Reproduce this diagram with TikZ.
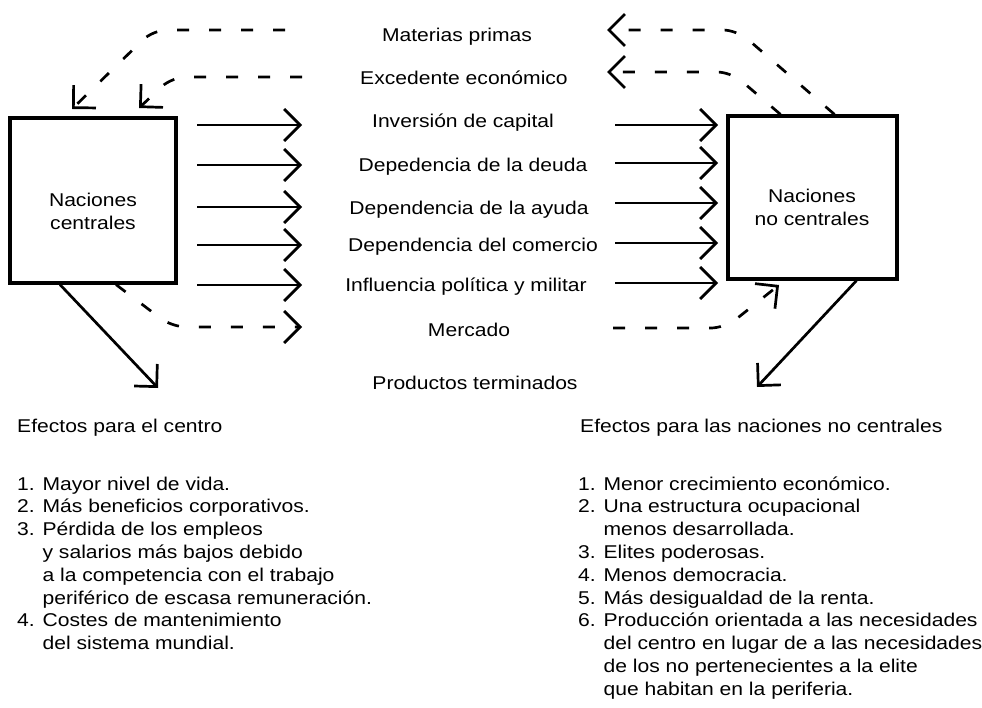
\documentclass[tikz,border=0pt]{standalone}
\usepackage{fontspec}
\setmainfont{Liberation Sans}[FakeStretch=1.14]
\usetikzlibrary{arrows.meta}
\begin{document}
\begin{tikzpicture}[x=1pt,y=-1pt,
  box/.style={draw=black, line width=3.2pt, inner sep=0pt},
  txt/.style={inner sep=0pt, font=\fontsize{18.5}{23}\selectfont},
  lbl/.style={txt, anchor=base},
  boxtext/.style={txt, align=center},
  lst/.style={txt, anchor=base west, font=\fontsize{18.5}{22.8}\selectfont},
  sarrow/.style={draw=black, line width=2.7pt, -{Straight Barb[length=16pt,width=32pt]}},
  darrow/.style={sarrow, dash pattern=on 12pt off 20pt, rounded corners=14pt}]
\useasboundingbox (0,0) rectangle (982,708);

% boxes
\node[box, minimum width=166pt, minimum height=165pt] (L) at (93,200.5) {};
\node[box, minimum width=169pt, minimum height=163pt] (R) at (812.5,197.5) {};
\node[boxtext] (Lt) at (93,211) {Naciones\\centrales};
\node[boxtext] (Rt) at (812,207.5) {Naciones\\no centrales};

% middle labels
\node[lbl] (mp) at (457,42) {Materias primas};
\node[lbl] (ee) at (464,85) {Excedente económico};
\node[lbl] (ic) at (463,128) {Inversión de capital};
\node[lbl] (dd) at (473,172) {Depedencia de la deuda};
\node[lbl] (da) at (469,215) {Dependencia de la ayuda};
\node[lbl] (dc) at (473,252) {Dependencia del comercio};
\node[lbl] (ip) at (466,292) {Influencia política y militar};
\node[lbl] (me) at (469,337) {Mercado};
\node[lbl] (pt) at (475,389) {Productos terminados};

% solid horizontal arrows
\foreach \yl/\yr [count=\i] in {125/125,165/163,207/203,245/243,285/283}{
  \coordinate (ls\i) at (197,\yl); \coordinate (le\i) at (302,\yl);
  \coordinate (rs\i) at (615,\yr); \coordinate (re\i) at (718,\yr);
  \draw[sarrow] (ls\i) -- (le\i);
  \draw[sarrow] (rs\i) -- (re\i);
}

% dashed arrows, top left
\coordinate (tl1s) at (285,30); \coordinate (tl1c) at (153,30); \coordinate (tl1e) at (72,109);
\coordinate (tl2s) at (302,77); \coordinate (tl2c) at (172,77); \coordinate (tl2e) at (139,108);
\draw[darrow] (tl1s) -- (tl1c) -- (tl1e);
\draw[darrow] (tl2s) -- (tl2c) -- (tl2e);

% dashed arrows, top right
\coordinate (tr1s) at ([xshift=22pt]R.north); \coordinate (tr1c) at (737,30); \coordinate (tr1e) at (607,30);
\coordinate (tr2s) at ([xshift=-32pt]R.north); \coordinate (tr2c) at (731,72); \coordinate (tr2e) at (607,72);
\draw[darrow] (tr1s) -- (tr1c) -- (tr1e);
\draw[darrow] (tr2s) -- (tr2c) -- (tr2e);

% dashed Mercado arrows
\coordinate (mls) at ([xshift=23pt]L.south); \coordinate (mlc) at (172,327); \coordinate (mle) at (302,327);
\coordinate (mrs) at (613,328); \coordinate (mrc) at (725,328); \coordinate (mre) at (779,285);
\draw[darrow] (mls) -- (mlc) -- (mle);
\draw[darrow] (mrs) -- (mrc) -- (mre);

% bottom solid arrows
\coordinate (ble) at (158,388);
\coordinate (bre) at (757,387);
\draw[sarrow] ([xshift=-33pt]L.south) -- (ble);
\draw[sarrow] ([xshift=44pt]R.south) -- (bre);

% effects texts
\node[lst] (hl) at (17,432) {Efectos para el centro};
\node[lst] (ll) at (17,490) {\begin{tabular}[t]{@{}l@{}}
1. Mayor nivel de vida.\\
2. Más beneficios corporativos.\\
3. Pérdida de los empleos\\
\phantom{3. }y salarios más bajos debido\\
\phantom{3. }a la competencia con el trabajo\\
\phantom{3. }periférico de escasa remuneración.\\
4. Costes de mantenimiento\\
\phantom{4. }del sistema mundial.
\end{tabular}};

\node[lst] (hr) at (580,432) {Efectos para las naciones no centrales};
\node[lst] (lr) at (578,490) {\begin{tabular}[t]{@{}l@{}}
1. Menor crecimiento económico.\\
2. Una estructura ocupacional\\
\phantom{2. }menos desarrollada.\\
3. Elites poderosas.\\
4. Menos democracia.\\
5. Más desigualdad de la renta.\\
6. Producción orientada a las necesidades\\
\phantom{6. }del centro en lugar de a las necesidades\\
\phantom{6. }de los no pertenecientes a la elite\\
\phantom{6. }que habitan en la periferia.
\end{tabular}};
\end{tikzpicture}
\end{document}
